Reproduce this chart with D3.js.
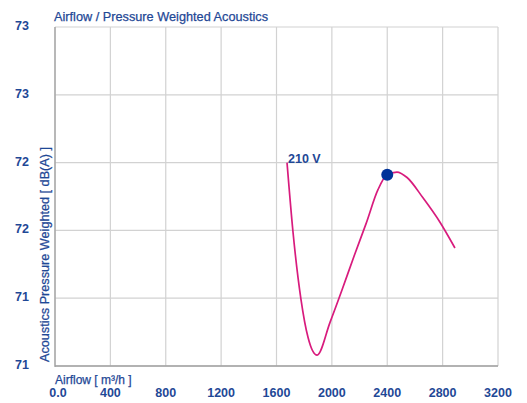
<!DOCTYPE html>
<html><head><meta charset="utf-8">
<script src="https://cdn.jsdelivr.net/npm/d3@7"></script>
<style>
html,body{margin:0;padding:0;background:#fff;}
text{font-family:"Liberation Sans",Arial,sans-serif;}
</style></head>
<body><svg id="c" width="527" height="403"></svg>
<script>
const xTicks = [0, 400, 800, 1200, 1600, 2000, 2400, 2800, 3200];
const yTicks = [70.5, 71.0, 71.5, 72.0, 72.5, 73.0];
const curveX = [1676, 1719, 1777, 1828, 1893, 1986, 2073, 2160, 2247, 2333, 2398, 2470, 2543, 2658, 2781, 2889];
const curveY = [72.00, 71.49, 70.99, 70.71, 70.58, 70.82, 71.06, 71.31, 71.55, 71.80, 71.91, 71.93, 71.89, 71.74, 71.56, 71.37];
const opPoint = [2400, 71.91];
const seriesLabel = "210 V";

const svg = d3.select("#c");
const m = {l:55, r:498, t:27, b:366};
const x = d3.scaleLinear().domain([0,3200]).range([m.l, m.r]);
const y = d3.scaleLinear().domain([70.5,73]).range([m.b, m.t]);
const blue = "#1f4896";

// grid
svg.append("g").selectAll("line").data(yTicks).join("line")
  .attr("x1", m.l).attr("x2", m.r).attr("y1", d=>y(d)).attr("y2", d=>y(d))
  .attr("stroke", "#d2d2d2").attr("stroke-width", 1.2);
svg.append("g").selectAll("line").data(xTicks).join("line")
  .attr("y1", m.t).attr("y2", m.b).attr("x1", d=>x(d)).attr("x2", d=>x(d))
  .attr("stroke", "#d2d2d2").attr("stroke-width", 1.2);
// axes lines
svg.append("line").attr("x1", m.l).attr("x2", m.l).attr("y1", m.t).attr("y2", m.b+1)
  .attr("stroke", "#a0a0a0").attr("stroke-width", 1.3);
svg.append("line").attr("x1", m.l).attr("x2", m.r).attr("y1", m.b).attr("y2", m.b)
  .attr("stroke", "#a0a0a0").attr("stroke-width", 1.3);

// tick labels
svg.append("g").selectAll("text").data(xTicks).join("text")
  .attr("x", d=>x(d)+(d===0?3:0)).attr("y", 397).attr("text-anchor","middle")
  .attr("font-size", 12.5).attr("font-weight","bold").attr("fill", blue)
  .text(d=> d===0 ? "0.0" : d3.format("d")(d));
svg.append("g").selectAll("text").data(yTicks).join("text")
  .attr("x", 29).attr("y", d=>y(d)+3).attr("text-anchor","end")
  .attr("font-size", 12.5).attr("font-weight","bold").attr("fill", blue)
  .text(d=> Math.round(d));

// titles
svg.append("text").attr("x", 54).attr("y", 21).attr("font-size", 12.5)
  .attr("fill", blue).attr("stroke", blue).attr("stroke-width", 0.25)
  .attr("textLength", 214).attr("lengthAdjust","spacingAndGlyphs")
  .text("Airflow / Pressure Weighted Acoustics");
svg.append("text").attr("x", 55).attr("y", 384).attr("font-size", 12)
  .attr("fill", blue).attr("stroke", blue).attr("stroke-width", 0.25).text("Airflow [ m³/h ]");
svg.append("text").attr("transform","translate(49,362) rotate(-90)").attr("font-size", 12)
  .attr("fill", blue).attr("stroke", blue).attr("stroke-width", 0.25)
  .attr("textLength", 215).attr("lengthAdjust","spacingAndGlyphs")
  .text("Acoustics Pressure Weighted [ dB(A) ]");

// curve
const pts = curveX.map((v,i)=>[v, curveY[i]]);
svg.append("path").datum(pts)
  .attr("d", d3.line().x(d=>x(d[0])).y(d=>y(d[1])).curve(d3.curveMonotoneX))
  .attr("fill","none").attr("stroke","#d81b7d").attr("stroke-width",1.7);
svg.append("text").attr("x", x(curveX[0])+1).attr("y", y(curveY[0])).attr("font-size", 12.5)
  .attr("fill", blue).attr("font-weight","bold").text(seriesLabel);
svg.append("circle").attr("cx", x(opPoint[0])).attr("cy", y(opPoint[1])).attr("r", 6)
  .attr("fill", "#003399");
</script></body></html>
